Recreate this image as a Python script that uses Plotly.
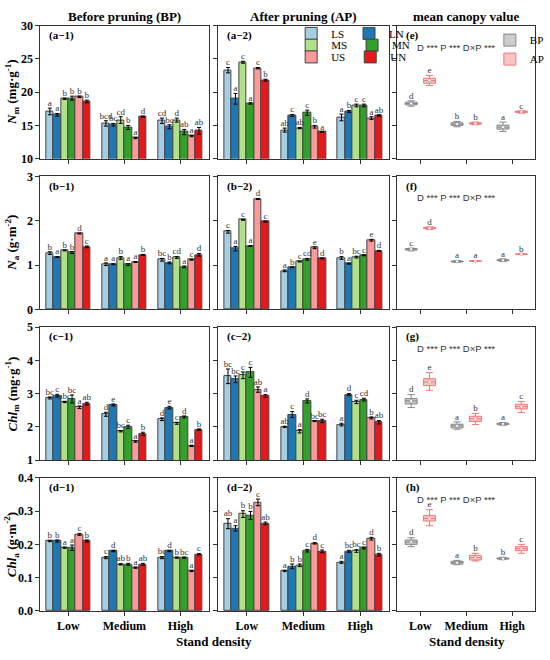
import plotly.graph_objects as go
from plotly.subplots import make_subplots

# ---------------- data ----------------
density = ["Low", "Medium", "High"]
series = ["LS", "LN", "MS", "MN", "US", "UN"]
series_colors = ["#a6cee3", "#1f78b4", "#b2df8a", "#33a02c", "#fb9a99", "#e31a1c"]

# rows: series (LS, LN, MS, MN, US, UN); columns: Low, Medium, High
nm_bp = [[17.1, 15.3, 15.7], [16.6, 15.1, 14.8], [19.0, 15.8, 15.8],
         [19.1, 14.7, 14.0], [19.3, 13.1, 13.4], [18.6, 16.3, 14.2]]
nm_bp_err = [[0.5, 0.4, 0.4], [0.2, 0.2, 0.3], [0.1, 0.5, 0.3],
             [0.3, 0.3, 0.4], [0.1, 0.1, 0.1], [0.2, 0.1, 0.5]]
nm_bp_lbl = [["a", "bcd", "cd"], ["a", "bc", "bc"], ["b", "cd", "d"],
             ["b", "b", "ab"], ["b", "a", "a"], ["b", "d", "ab"]]

nm_ap = [[23.3, 14.3, 16.2], [19.0, 16.5, 17.1], [24.5, 14.6, 18.0],
         [18.3, 16.9, 18.0], [23.6, 14.8, 16.1], [21.8, 14.0, 16.5]]
nm_ap_err = [[0.4, 0.3, 0.5], [0.8, 0.15, 0.15], [0.15, 0.1, 0.2],
             [0.1, 0.4, 0.2], [0.1, 0.2, 0.2], [0.15, 0.05, 0.1]]
nm_ap_lbl = [["c", "ab", "a"], ["a", "c", "b"], ["c", "ab", "c"],
             ["a", "c", "c"], ["c", "b", "a"], ["b", "a", "ab"]]

na_bp = [[1.27, 1.02, 1.12], [1.18, 1.02, 1.05], [1.33, 1.16, 1.17],
         [1.28, 1.01, 0.96], [1.71, 1.07, 1.12], [1.41, 1.23, 1.23]]
na_bp_err = [[0.03, 0.03, 0.03], [0.01, 0.01, 0.02], [0.01, 0.03, 0.02],
             [0.02, 0.02, 0.02], [0.01, 0.01, 0.01], [0.02, 0.01, 0.03]]
na_bp_lbl = [["b", "a", "bc"], ["a", "a", "b"], ["b", "b", "cd"],
             ["b", "a", "a"], ["d", "a", "c"], ["c", "b", "d"]]

na_ap = [[1.75, 0.87, 1.16], [1.37, 0.95, 1.03], [2.02, 1.08, 1.18],
         [1.43, 1.13, 1.22], [2.49, 1.39, 1.56], [1.98, 1.15, 1.32]]
na_ap_err = [[0.03, 0.02, 0.03], [0.05, 0.01, 0.01], [0.01, 0.01, 0.02],
             [0.01, 0.02, 0.01], [0.01, 0.02, 0.02], [0.01, 0.01, 0.01]]
na_ap_lbl = [["c", "a", "b"], ["a", "b", "a"], ["c", "c", "bc"],
             ["a", "cd", "c"], ["d", "e", "e"], ["c", "d", "d"]]

chlm_bp = [[2.87, 2.38, 2.23], [2.94, 2.66, 2.58], [2.75, 1.87, 2.11],
           [2.84, 2.00, 2.30], [2.59, 1.56, 1.43], [2.70, 1.79, 1.92]]
chlm_bp_err = [[0.03, 0.06, 0.04], [0.04, 0.03, 0.04], [0.02, 0.02, 0.03],
               [0.12, 0.05, 0.03], [0.04, 0.02, 0.02], [0.04, 0.05, 0.02]]
chlm_bp_lbl = [["bc", "d", "d"], ["c", "e", "e"], ["abc", "bc", "c"],
               ["bc", "c", "d"], ["a", "a", "a"], ["ab", "b", "b"]]

chlm_ap = [[3.52, 2.00, 2.07], [3.43, 2.37, 2.97], [3.55, 1.87, 2.75],
           [3.64, 2.78, 2.82], [3.12, 2.17, 2.27], [2.93, 2.18, 2.14]]
chlm_ap_err = [[0.22, 0.02, 0.04], [0.10, 0.09, 0.03], [0.10, 0.05, 0.05],
               [0.15, 0.06, 0.04], [0.08, 0.01, 0.03], [0.04, 0.05, 0.05]]
chlm_ap_lbl = [["bc", "ab", "a"], ["bc", "c", "d"], ["c", "a", "c"],
               ["c", "d", "cd"], ["ab", "bc", "b"], ["a", "bc", "ab"]]

chla_bp = [[0.210, 0.160, 0.160], [0.210, 0.180, 0.180], [0.190, 0.140, 0.160],
           [0.190, 0.140, 0.160], [0.230, 0.130, 0.120], [0.210, 0.140, 0.170]]
chla_bp_err = [[0.002, 0.003, 0.003], [0.003, 0.002, 0.002], [0.002, 0.002, 0.002],
               [0.008, 0.003, 0.002], [0.003, 0.002, 0.002], [0.003, 0.003, 0.002]]
chla_bp_lbl = [["b", "c", "bc"], ["b", "d", "d"], ["a", "ab", "b"],
               ["a", "b", "bc"], ["c", "a", "a"], ["b", "ab", "c"]]

chla_ap = [[0.262, 0.120, 0.146], [0.248, 0.134, 0.179], [0.291, 0.137, 0.180],
           [0.287, 0.181, 0.189], [0.326, 0.203, 0.217], [0.263, 0.179, 0.169]]
chla_ap_err = [[0.015, 0.002, 0.003], [0.008, 0.007, 0.003], [0.010, 0.004, 0.004],
               [0.012, 0.004, 0.003], [0.010, 0.002, 0.004], [0.004, 0.004, 0.004]]
chla_ap_lbl = [["ab", "a", "a"], ["a", "b", "bc"], ["b", "b", "bc"],
               ["b", "c", "c"], ["c", "d", "d"], ["ab", "c", "b"]]

# mean canopy value boxes: [lowerfence, q1, median, q3, upperfence] per density
nm_box_bp = [[17.9, 14.8, 14.1], [18.1, 15.0, 14.45], [18.3, 15.2, 14.75], [18.5, 15.4, 15.05], [18.7, 15.6, 15.5]]
nm_box_ap = [[21.0, 15.1, 16.85], [21.35, 15.2, 16.95], [21.75, 15.3, 17.05], [22.1, 15.4, 17.15], [22.5, 15.5, 17.2]]
nm_box_lbl = [["d", "b", "a"], ["e", "b", "c"]]

na_box_bp = [[1.32, 1.06, 1.08], [1.34, 1.07, 1.10], [1.355, 1.08, 1.11], [1.37, 1.09, 1.12], [1.38, 1.10, 1.14]]
na_box_ap = [[1.80, 1.08, 1.235], [1.82, 1.085, 1.24], [1.83, 1.09, 1.245], [1.85, 1.095, 1.25], [1.86, 1.10, 1.255]]
na_box_lbl = [["c", "a", "a"], ["d", "a", "b"]]

chlm_box_bp = [[2.58, 1.93, 2.05], [2.69, 1.97, 2.07], [2.78, 2.03, 2.09], [2.85, 2.08, 2.11], [2.97, 2.15, 2.13]]
chlm_box_ap = [[3.10, 2.07, 2.43], [3.24, 2.16, 2.54], [3.35, 2.24, 2.61], [3.45, 2.32, 2.68], [3.63, 2.40, 2.76]]
chlm_box_lbl = [["d", "a", "a"], ["e", "b", "c"]]

chla_box_bp = [[0.193, 0.139, 0.154], [0.200, 0.141, 0.156], [0.207, 0.145, 0.157], [0.213, 0.149, 0.159], [0.220, 0.152, 0.161]]
chla_box_ap = [[0.256, 0.150, 0.173], [0.270, 0.153, 0.181], [0.278, 0.160, 0.187], [0.287, 0.167, 0.193], [0.304, 0.173, 0.200]]
chla_box_lbl = [["d", "a", "b"], ["e", "b", "c"]]

y_ranges = [[10, 30], [0, 3], [1, 5], [0, 0.4]]
y_dticks = [5, 1, 1, 0.1]
y_formats = ["d", "d", "d", ".1f"]
y_titles = ["<i>N</i><sub>m</sub> (mg·g<sup>-1</sup>)",
            "<i>N</i><sub>a</sub> (g·m<sup>-2</sup>)",
            "<i>Chl</i><sub>m</sub> (mg·g<sup>-1</sup>)",
            "<i>Chl</i><sub>a</sub> (g·m<sup>-2</sup>)"]
panel_tags = [["(a−1)", "(a−2)", "(e)"], ["(b−1)", "(b−2)", "(f)"],
              ["(c−1)", "(c−2)", "(g)"], ["(d−1)", "(d−2)", "(h)"]]
col_titles = ["Before pruning (BP)", "After pruning (AP)", "mean canopy value"]
anova_text = "D *** P *** D×P ***"
box_names = ["BP", "AP"]

bar_data = [
    [(nm_bp, nm_bp_err, nm_bp_lbl), (nm_ap, nm_ap_err, nm_ap_lbl)],
    [(na_bp, na_bp_err, na_bp_lbl), (na_ap, na_ap_err, na_ap_lbl)],
    [(chlm_bp, chlm_bp_err, chlm_bp_lbl), (chlm_ap, chlm_ap_err, chlm_ap_lbl)],
    [(chla_bp, chla_bp_err, chla_bp_lbl), (chla_ap, chla_ap_err, chla_ap_lbl)],
]
box_data = [(nm_box_bp, nm_box_ap, nm_box_lbl), (na_box_bp, na_box_ap, na_box_lbl),
            (chlm_box_bp, chlm_box_ap, chlm_box_lbl), (chla_box_bp, chla_box_ap, chla_box_lbl)]

# ---------------- layout geometry ----------------
W, H = 550, 660
col_px = [(41, 212), (222, 395), (404, 544)]
row_px = [(19, 155), (173, 309), (327, 463), (481, 617)]
SERIF = "Liberation Serif"
SANS = "Liberation Sans"
LINE = "#333333"

bar_w = 0.132
box_off = 0.2
box_fill = ["#cccccc", "#fbc4c4"]
box_line = ["#858585", "#f07878"]

fig = make_subplots(rows=4, cols=3)

def ax_idx(r, c):
    return r * 3 + c + 1

for r in range(4):
    for c in range(2):
        vals, errs, lbls = bar_data[r][c]
        for k, name in enumerate(series):
            xs = [i + (k - 2.5) * bar_w for i in range(len(density))]
            show = (r == 0 and c == 1)
            leg = "legend" if k < 2 else ("legend3" if k < 4 else "legend4")
            fig.add_trace(go.Bar(
                x=xs, y=vals[k], width=bar_w, name=name,
                marker=dict(color=series_colors[k], line=dict(color="#444444", width=1)),
                error_y=dict(type="data", array=errs[k], color="black", thickness=1, width=2),
                showlegend=show, legend=leg,
            ), row=r + 1, col=c + 1)
            fig.add_trace(go.Scatter(
                x=xs, y=[v + e for v, e in zip(vals[k], errs[k])], text=lbls[k],
                mode="text", textposition="top center",
                textfont=dict(family=SERIF, size=9, color="#333333"),
                showlegend=False, cliponaxis=False, hoverinfo="skip",
            ), row=r + 1, col=c + 1)
    # box panel
    bp, ap, blbl = box_data[r]
    for j, stats in enumerate([bp, ap]):
        xs = [i + (-box_off if j == 0 else box_off) for i in range(len(density))]
        fig.add_trace(go.Box(
            x=xs, lowerfence=stats[0], q1=stats[1], median=stats[2], q3=stats[3],
            upperfence=stats[4], width=0.26, whiskerwidth=0.6,
            fillcolor=box_fill[j], line=dict(color=box_line[j], width=1),
            name=box_names[j], showlegend=(r == 0), legend="legend2",
        ), row=r + 1, col=3)
        fig.add_trace(go.Scatter(
            x=xs, y=stats[2], mode="markers",
            marker=dict(size=3, color="white", line=dict(color=box_line[j], width=0.5)),
            showlegend=False, hoverinfo="skip",
        ), row=r + 1, col=3)
        fig.add_trace(go.Scatter(
            x=xs, y=stats[4], text=blbl[j], mode="text", textposition="top center",
            textfont=dict(family=SERIF, size=9, color="#333333"),
            showlegend=False, cliponaxis=False, hoverinfo="skip",
        ), row=r + 1, col=3)

annotations = []
for r in range(4):
    y0, y1 = row_px[r]
    for c in range(3):
        n = ax_idx(r, c)
        x0, x1 = col_px[c]
        xa = "xaxis" if n == 1 else f"xaxis{n}"
        ya = "yaxis" if n == 1 else f"yaxis{n}"
        fig.layout[xa].update(
            domain=[x0 / W, x1 / W], range=[-0.5, 2.5],
            tickvals=list(range(len(density))),
            ticktext=density, showticklabels=(r == 3),
            tickfont=dict(family=SERIF, size=12, color="black", weight="bold"),
            showline=True, mirror=True, linecolor=LINE, linewidth=1,
            ticks="outside", ticklen=4, tickcolor=LINE, showgrid=False, zeroline=False,
        )
        fig.layout[ya].update(
            domain=[1 - y1 / H, 1 - y0 / H], range=y_ranges[r], dtick=y_dticks[r],
            tick0=y_ranges[r][0], tickformat=y_formats[r], showticklabels=(c == 0),
            tickfont=dict(family=SERIF, size=12, color="black", weight="bold"),
            showline=True, mirror=True, linecolor=LINE, linewidth=1,
            ticks="outside", ticklen=4, tickcolor=LINE, showgrid=False, zeroline=False,
        )
        annotations.append(dict(
            text=panel_tags[r][c], xref="paper", yref="paper",
            x=(x0 + 7) / W, y=1 - (y0 + 10) / H, xanchor="left", yanchor="middle",
            showarrow=False, font=dict(family=SERIF, size=11, color="black", weight="bold")))
    annotations.append(dict(
        text=anova_text, xref="paper", yref="paper",
        x=464 / W, y=1 - (y0 + 22) / H, xanchor="center", yanchor="middle",
        showarrow=False, font=dict(family=SANS, size=9.5, color="#333333")))
    annotations.append(dict(
        text=y_titles[r], xref="paper", yref="paper", x=12 / W, y=1 - (y0 + y1) / 2 / H,
        xanchor="center", yanchor="middle", textangle=-90, showarrow=False,
        font=dict(family=SERIF, size=13, color="black", weight="bold")))

for c in range(3):
    x0, x1 = col_px[c]
    annotations.append(dict(
        text=col_titles[c], xref="paper", yref="paper", x=(x0 + x1) / 2 / W, y=1 - 10 / H,
        xanchor="center", yanchor="middle", showarrow=False,
        font=dict(family=SERIF, size=13, color="black", weight="bold")))

annotations.append(dict(
    text="Stand density", xref="paper", yref="paper", x=218 / W, y=1 - 648 / H,
    xanchor="center", yanchor="middle", showarrow=False,
    font=dict(family=SERIF, size=13, color="black", weight="bold")))
annotations.append(dict(
    text="Stand density", xref="paper", yref="paper", x=475 / W, y=1 - 648 / H,
    xanchor="center", yanchor="middle", showarrow=False,
    font=dict(family=SERIF, size=13, color="black", weight="bold")))

leg_common = dict(orientation="h", xanchor="left", yanchor="middle",
                  bgcolor="rgba(0,0,0,0)", font=dict(family=SERIF, size=11, color="black"),
                  itemwidth=30, tracegroupgap=0)

fig.update_layout(
    width=W, height=H, margin=dict(l=0, r=0, t=0, b=0),
    plot_bgcolor="white", paper_bgcolor="white",
    barmode="overlay", bargap=0, annotations=annotations,
    legend=dict(x=296 / W, y=1 - 27 / H, **leg_common),
    legend3=dict(x=296 / W, y=1 - 39 / H, **leg_common),
    legend4=dict(x=296 / W, y=1 - 51 / H, **leg_common),
    legend2=dict(x=498 / W, y=1 - 19 / H, xanchor="left", yanchor="top",
                 orientation="v", bgcolor="rgba(0,0,0,0)", tracegroupgap=0,
                 font=dict(family=SERIF, size=11, color="black"), itemwidth=30),
    boxmode="overlay",
)

fig.write_html("out.html", config={"displayModeBar": False},
               post_script="document.body.style.margin='0';")
